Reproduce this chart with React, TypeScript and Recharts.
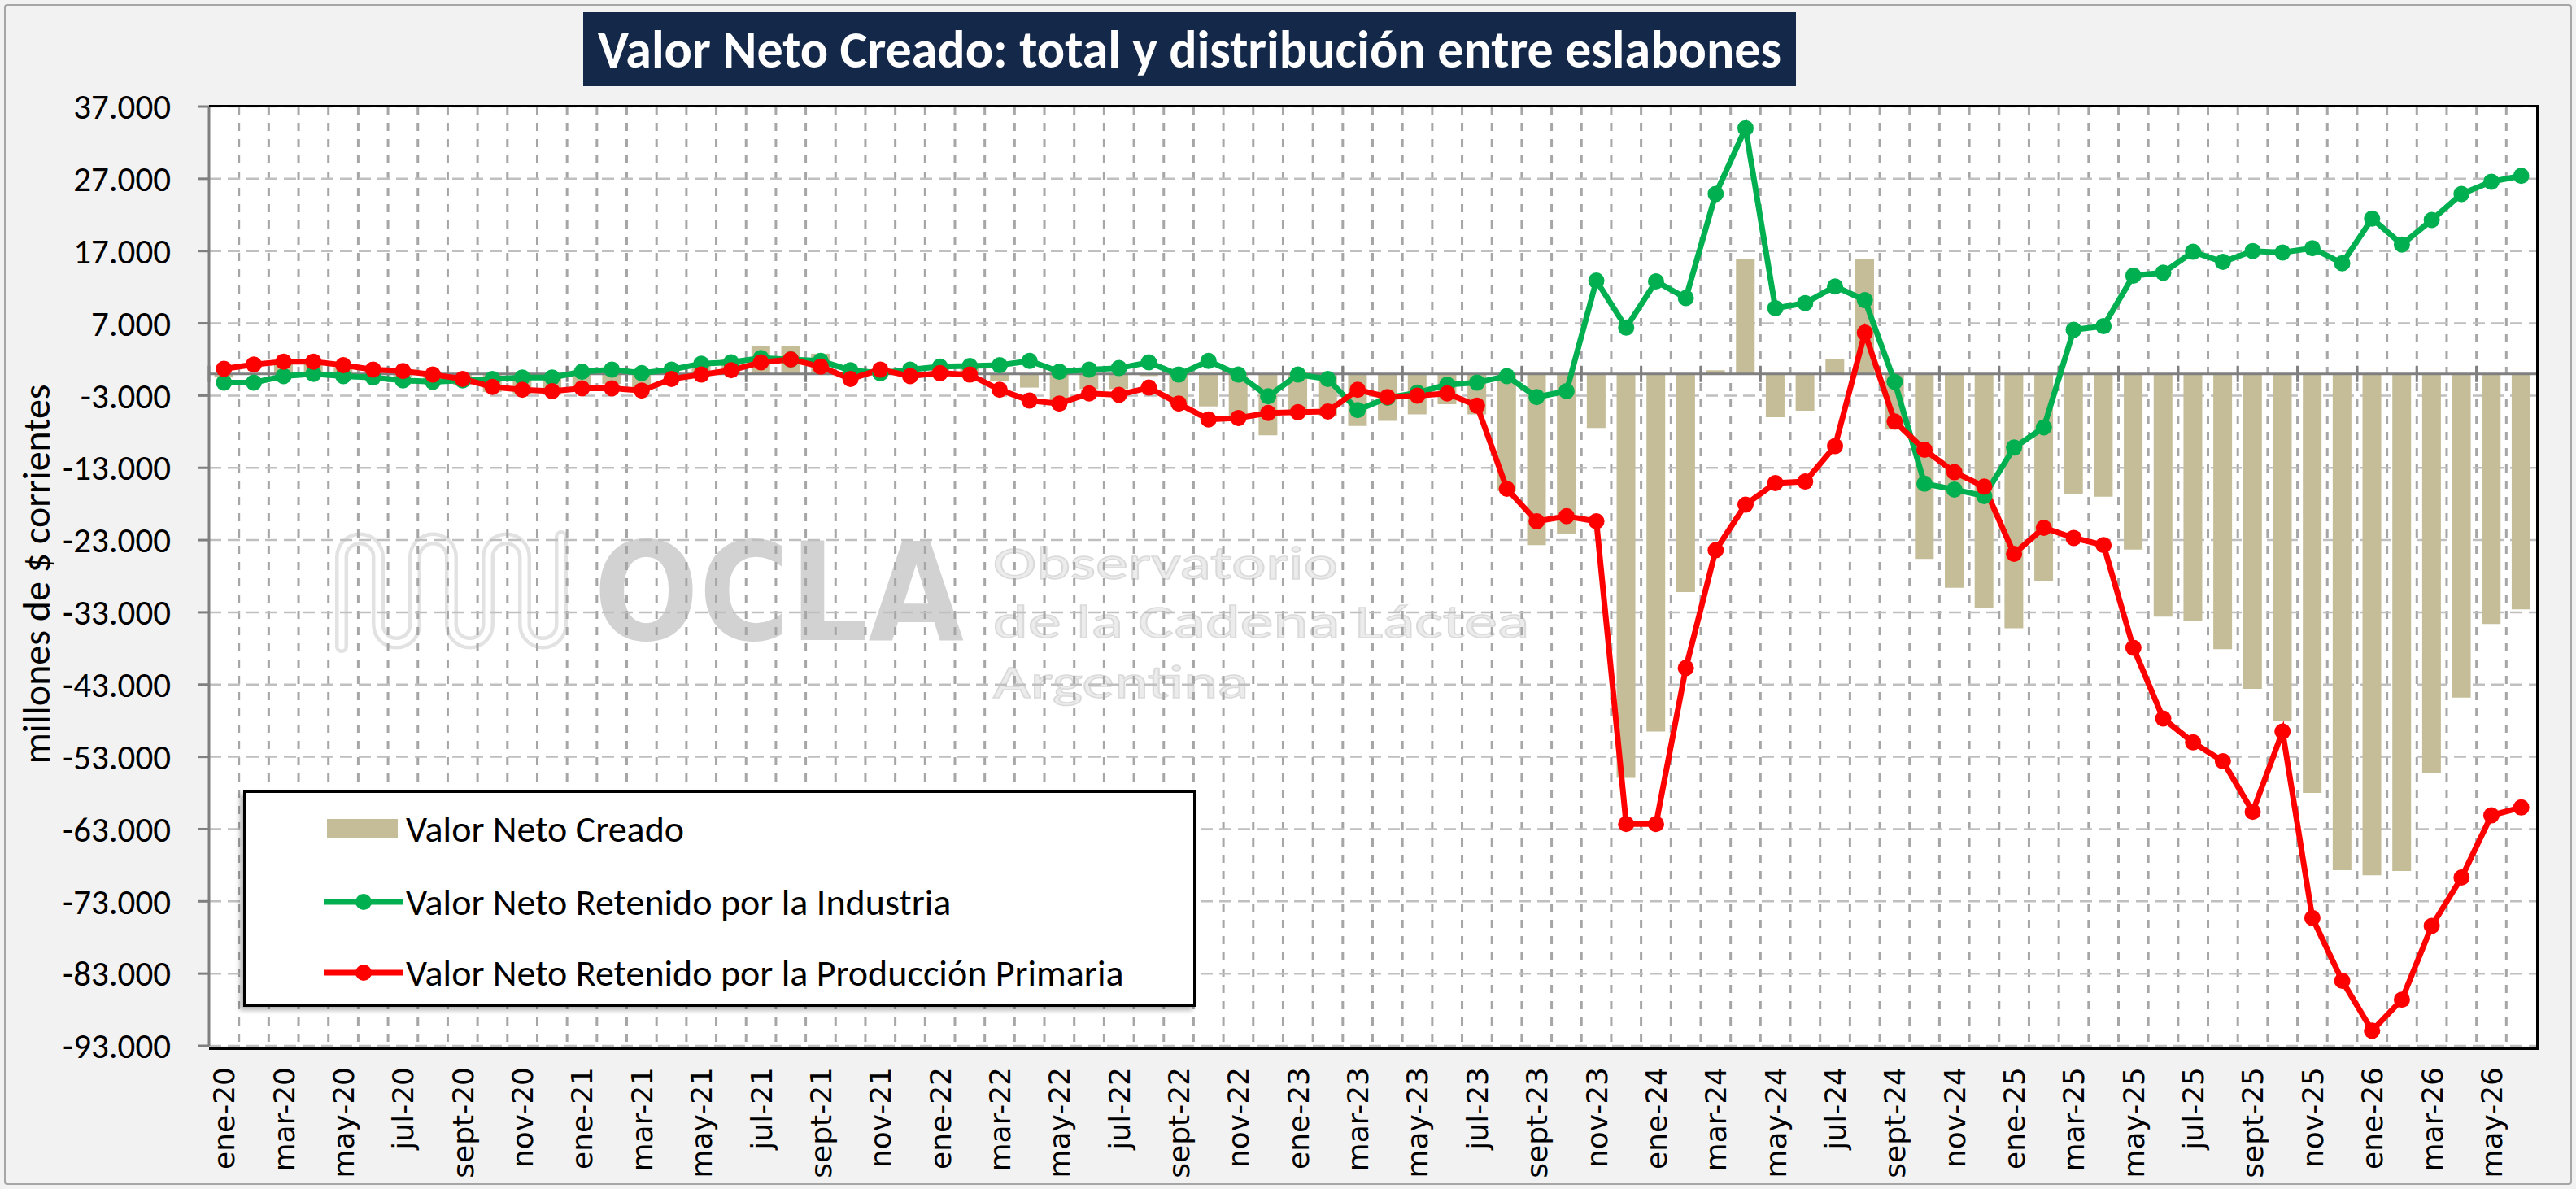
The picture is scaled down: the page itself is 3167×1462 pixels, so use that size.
import React from 'react'
import { ComposedChart, Bar, Line, XAxis, YAxis, CartesianGrid, ReferenceLine } from 'recharts'

const months = [
  'ene-20', 'feb-20', 'mar-20', 'abr-20', 'may-20', 'jun-20', 'jul-20', 'ago-20', 'sept-20', 'oct-20', 'nov-20', 'dic-20',
  'ene-21', 'feb-21', 'mar-21', 'abr-21', 'may-21', 'jun-21', 'jul-21', 'ago-21', 'sept-21', 'oct-21', 'nov-21', 'dic-21',
  'ene-22', 'feb-22', 'mar-22', 'abr-22', 'may-22', 'jun-22', 'jul-22', 'ago-22', 'sept-22', 'oct-22', 'nov-22', 'dic-22',
  'ene-23', 'feb-23', 'mar-23', 'abr-23', 'may-23', 'jun-23', 'jul-23', 'ago-23', 'sept-23', 'oct-23', 'nov-23', 'dic-23',
  'ene-24', 'feb-24', 'mar-24', 'abr-24', 'may-24', 'jun-24', 'jul-24', 'ago-24', 'sept-24', 'oct-24', 'nov-24', 'dic-24',
  'ene-25', 'feb-25', 'mar-25', 'abr-25', 'may-25', 'jun-25', 'jul-25', 'ago-25', 'sept-25', 'oct-25', 'nov-25', 'dic-25',
  'ene-26', 'feb-26', 'mar-26', 'abr-26', 'may-26', 'jun-26',
]

// Valor Neto Creado (barras)
const valorCreado = [
  -500, 0, 1400, 1600, 900, 200, -400, -1200, -1500, -2500, -2700, -2900,
  -1700, -1400, -2200, 0, 1300, 2000, 3800, 3900, 2800, -200, 700, 300,
  1100, 1000, -1000, -1900, -3800, -2100, -2100, -300, -4200, -4500, -6200, -8500,
  -5400, -5800, -7200, -6500, -5600, -4200, -5600, -16200, -23700, -22100, -7500, -55900,
  -49500, -30200, 500, 15900, -6000, -5100, 2100, 15900, -7700, -25600, -29600, -32400,
  -35200, -28700, -16600, -17000, -24300, -33600, -34200, -38100, -43600, -48000, -58000, -68700,
  -69400, -68800, -55200, -44800, -34600, -32600,
]

// Valor Neto Retenido por la Industria
const industria = [
  -1200, -1200, -300, 0, -300, -500, -900, -1100, -900, -700, -500, -500,
  300, 600, 100, 600, 1400, 1600, 2200, 2000, 1800, 500, 100, 600,
  1000, 1100, 1200, 1800, 300, 600, 800, 1600, -100, 1800, -100, -3100,
  -100, -700, -5000, -3300, -2600, -1500, -1200, -300, -3200, -2400, 12900, 6400,
  12800, 10500, 24900, 34000, 9100, 9800, 12100, 10200, -1100, -15200, -16000, -16900,
  -10200, -7400, 6100, 6600, 13600, 14000, 16900, 15500, 17000, 16800, 17400, 15300,
  21500, 17900, 21300, 24900, 26600, 27400,
]

// Valor Neto Retenido por la Producción Primaria
const primaria = [
  700, 1300, 1700, 1700, 1200, 600, 400, -100, -700, -1800, -2200, -2400,
  -2000, -2000, -2300, -700, -100, 500, 1600, 2000, 1000, -700, 600, -300,
  100, -100, -2200, -3700, -4100, -2700, -2900, -1900, -4100, -6300, -6100, -5400,
  -5300, -5200, -2200, -3200, -3000, -2700, -4400, -15900, -20400, -19700, -20400, -62300,
  -62300, -40700, -24400, -18100, -15100, -14900, -10000, 5700, -6600, -10500, -13600, -15600,
  -24900, -21300, -22700, -23700, -37900, -47700, -51000, -53600, -60600, -49500, -75300, -84000,
  -90900, -86600, -76400, -69700, -61100, -60000,
]

const yTicks = [37000, 27000, 17000, 7000, -3000, -13000, -23000, -33000, -43000, -53000, -63000, -73000, -83000, -93000]

const series = [
  { key: 'creado', name: 'Valor Neto Creado', kind: 'bar', color: '#C4BD97' },
  { key: 'industria', name: 'Valor Neto Retenido por la Industria', kind: 'line', color: '#00B050' },
  { key: 'primaria', name: 'Valor Neto Retenido por la Producción Primaria', kind: 'line', color: '#FF0000' },
]

const data = months.map((month, i) => ({
  month,
  creado: valorCreado[i],
  industria: industria[i],
  primaria: primaria[i],
}))

const W = 3167
const H = 1462
const PLOT = { left: 257, top: 131, right: 3118, bottom: 1286 }

const NARROW = 'Carlito, "Liberation Sans Narrow", "Arial Narrow", "DejaVu Sans Condensed", "Open Sans", sans-serif'
const TAN = series[0].color
const GREEN = series[1].color
const RED = series[2].color

const fmt = (v: number) => {
  const s = Math.abs(v).toString().replace(/\B(?=(\d{3})+(?!\d))/g, '.')
  return v < 0 ? '-' + s : s
}

const MonthTick = (props: any) => {
  const { x, y, payload } = props
  return (
    <text
      x={x}
      y={y}
      dy="0.36em"
      transform={`rotate(-90, ${x}, ${y})`}
      textAnchor="end"
      fontFamily='"DejaVu Sans", Verdana, sans-serif'
      fontSize={36}
      fill="#000"
    >
      {payload.value}
    </text>
  )
}

// zero line with the category axis tick marks every two months
const ZeroLine = (props: any) => {
  const { x1, y1, x2 } = props
  const band = (x2 - x1) / months.length
  const ticks = []
  for (let i = 0; i < months.length; i += 2) {
    const tx = x1 + band * i
    ticks.push(<line key={i} x1={tx} x2={tx} y1={y1 - 10} y2={y1 + 10} stroke="#7F7F7F" strokeWidth={3} />)
  }
  return (
    <g>
      <line x1={x1} x2={x2} y1={y1} y2={y1} stroke="#7F7F7F" strokeWidth={3} />
      {ticks}
    </g>
  )
}

function LegendBox() {
  const rows = [44, 134, 221]
  return (
    <div
      style={{
        position: 'absolute',
        left: 299,
        top: 972,
        width: 1165,
        height: 260,
        background: '#FFFFFF',
        border: '3px solid #000',
        boxShadow: '-4px 4px 6px rgba(0,0,0,0.3)',
      }}
    >
      <svg width={1165} height={260} style={{ display: 'block' }}>
        {series.map((s, i) => {
          const cy = rows[i]
          return (
            <g key={s.key}>
              {s.kind === 'bar' ? (
                <rect x={100} y={cy - 12} width={87} height={24} fill={s.color} />
              ) : (
                <g>
                  <line x1={96} x2={193} y1={cy} y2={cy} stroke={s.color} strokeWidth={7} />
                  <circle cx={145} cy={cy} r={10} fill={s.color} />
                </g>
              )}
              <text x={197} y={cy} dy="0.35em" fontFamily={NARROW} fontSize={46} fill="#000">
                {s.name}
              </text>
            </g>
          )
        })}
      </svg>
    </div>
  )
}

const boundaries = ({ offset }: any) => {
  const out: number[] = []
  const band = offset.width / months.length
  for (let i = 1; i < months.length; i++) out.push(offset.left + band * i)
  return out
}

function Watermark() {
  const wave =
    'M420,795 L420,685 A22.5,22.5 0 0 1 465,685 L465,768 A22.5,22.5 0 0 0 510,768 L510,685 A22.5,22.5 0 0 1 555,685 ' +
    'L555,768 A22.5,22.5 0 0 0 600,768 L600,685 A22.5,22.5 0 0 1 645,685 L645,768 A22.5,22.5 0 0 0 690,768 L690,660'
  return (
    <svg width={W} height={H} style={{ position: 'absolute', left: 0, top: 0 }}>
      <path d={wave} fill="none" stroke="#E2E2E2" strokeWidth={16} strokeLinecap="round" />
      <path d={wave} fill="none" stroke="#FFFFFF" strokeWidth={7} strokeLinecap="round" />
      <text x={730} y={787} fontFamily='"DejaVu Sans", sans-serif' fontWeight="bold" fontSize={168} fill="#D2D2D2" textLength={455} lengthAdjust="spacingAndGlyphs">
        OCLA
      </text>
      <g fontFamily={NARROW} fontSize={57} fill="#ECECEC" stroke="#DADADA" strokeWidth={1.5}>
        <text x={1221} y={712} textLength={424} lengthAdjust="spacingAndGlyphs">Observatorio</text>
        <text x={1221} y={784} textLength={659} lengthAdjust="spacingAndGlyphs">de la Cadena Láctea</text>
        <text x={1221} y={858} textLength={314} lengthAdjust="spacingAndGlyphs">Argentina</text>
      </g>
    </svg>
  )
}

export default function App() {
  return (
    <div style={{ position: 'absolute', left: 0, top: 0, width: W, height: H, background: '#F2F2F2', overflow: 'hidden' }}>
      <div style={{ position: 'absolute', left: 5, top: 5, width: W - 14, height: H - 14, border: '2px solid #A6A6A6', borderRadius: 4 }} />
      <div
        style={{
          position: 'absolute',
          left: PLOT.left,
          top: PLOT.top,
          width: PLOT.right - PLOT.left,
          height: PLOT.bottom - PLOT.top,
          background: '#FFFFFF',
        }}
      />
      <Watermark />
      <div style={{ position: 'absolute', left: 0, top: 0 }}>
        <ComposedChart
          width={W}
          height={H}
          data={data}
          margin={{ top: PLOT.top, right: W - PLOT.right, bottom: 0, left: 0 }}
          barCategoryGap="18%"
        >
          <CartesianGrid
            horizontal={false}
            stroke="#A6A6A6"
            strokeWidth={3}
            strokeDasharray="10 10"
            verticalCoordinatesGenerator={boundaries}
          />
          <CartesianGrid vertical={false} stroke="#BFBFBF" strokeWidth={2.5} strokeDasharray="15 8" />
          <XAxis
            dataKey="month"
            interval={1}
            height={H - PLOT.bottom}
            tickLine={false}
            axisLine={false}
            tickSize={0}
            tickMargin={26}
            tick={<MonthTick />}
          />
          <YAxis
            type="number"
            width={PLOT.left}
            domain={[-93000, 37000]}
            ticks={yTicks}
            allowDataOverflow
            interval={0}
            tickFormatter={fmt}
            axisLine={{ stroke: '#7F7F7F', strokeWidth: 3 }}
            tickLine={{ stroke: '#7F7F7F', strokeWidth: 3 }}
            tickSize={14}
            tickMargin={33}
            tick={{ fontFamily: NARROW, fontSize: 43, fill: '#000' }}
          />
          <Bar dataKey="creado" name={series[0].name} fill={TAN} isAnimationActive={false} />
          <ReferenceLine y={0} shape={<ZeroLine />} />
          <Line
            dataKey="industria"
            name={series[1].name}
            type="linear"
            stroke={GREEN}
            strokeWidth={7}
            dot={{ r: 10, fill: GREEN, stroke: GREEN, strokeWidth: 0 }}
            activeDot={false}
            isAnimationActive={false}
          />
          <Line
            dataKey="primaria"
            name={series[2].name}
            type="linear"
            stroke={RED}
            strokeWidth={7}
            dot={{ r: 10, fill: RED, stroke: RED, strokeWidth: 0 }}
            activeDot={false}
            isAnimationActive={false}
          />
        </ComposedChart>
      </div>
      <div
        style={{
          position: 'absolute',
          left: PLOT.left,
          top: PLOT.top - 2,
          width: PLOT.right - PLOT.left,
          height: PLOT.bottom - PLOT.top + 1,
          borderTop: '3px solid #000',
          borderRight: '3px solid #000',
          borderBottom: '3px solid #000',
          pointerEvents: 'none',
        }}
      />
      <LegendBox />
      <svg width={120} height={H} style={{ position: 'absolute', left: 0, top: 0 }}>
        <text
          x={44}
          y={706}
          transform="rotate(-90, 44, 706)"
          textAnchor="middle"
          dy="0.35em"
          fontFamily={NARROW}
          fontSize={48}
          fill="#000"
        >
          millones de $ corrientes
        </text>
      </svg>
      <div
        style={{
          position: 'absolute',
          left: 717,
          top: 15,
          width: 1491,
          height: 91,
          background: '#142849',
          color: '#FFFFFF',
          fontFamily: NARROW,
          fontWeight: 'bold',
          fontSize: 64,
          display: 'flex',
          alignItems: 'center',
          justifyContent: 'center',
          whiteSpace: 'nowrap',
        }}
      >
        Valor Neto Creado: total y distribución entre eslabones
      </div>
    </div>
  )
}
